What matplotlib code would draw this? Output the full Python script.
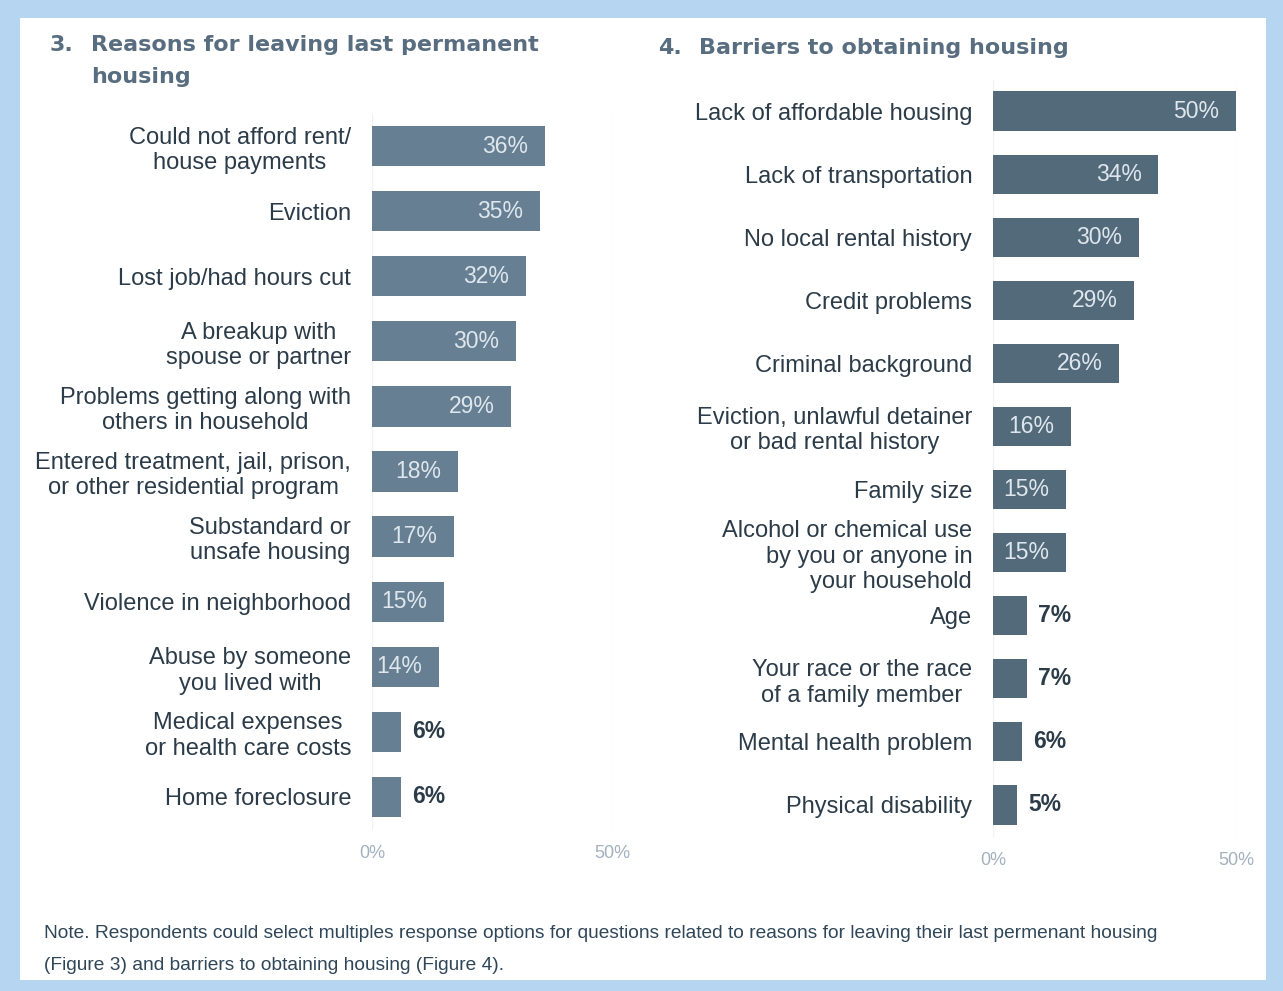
import matplotlib.pyplot as plt
from matplotlib.patches import Rectangle

# Figure 3: reasons for leaving last permanent housing (% of respondents)
reasons = [
    "Could not afford rent/\nhouse payments",
    "Eviction",
    "Lost job/had hours cut",
    "A breakup with\nspouse or partner",
    "Problems getting along with\nothers in household",
    "Entered treatment, jail, prison,\nor other residential program",
    "Substandard or\nunsafe housing",
    "Violence in neighborhood",
    "Abuse by someone\nyou lived with",
    "Medical expenses\nor health care costs",
    "Home foreclosure",
]
reason_pct = [36, 35, 32, 30, 29, 18, 17, 15, 14, 6, 6]

# Figure 4: barriers to obtaining housing (% of respondents)
barriers = [
    "Lack of affordable housing",
    "Lack of transportation",
    "No local rental history",
    "Credit problems",
    "Criminal background",
    "Eviction, unlawful detainer\nor bad rental history",
    "Family size",
    "Alcohol or chemical use\nby you or anyone in\nyour household",
    "Age",
    "Your race or the race\nof a family member",
    "Mental health problem",
    "Physical disability",
]
barrier_pct = [50, 34, 30, 29, 26, 16, 15, 15, 7, 7, 6, 5]

W, H = 1283, 991
LABEL_FONT = ["Liberation Sans", "DejaVu Sans"]
TEXT_DARK = "#2b3b48"
TITLE_COLOR = "#586d7f"


def px(x, y, w, h):
    """Axes rect from pixel box (top-left origin)."""
    return [x / W, 1 - (y + h) / H, w / W, h / H]


def draw_bars(ax, labels, values, color, right_align=()):
    pos = list(range(len(values)))
    ax.barh(pos, values, height=0.62, color=color, zorder=2)
    ax.set_xlim(0, 50)
    ax.set_ylim(len(values) - 0.5, -0.5)
    ax.set_yticks(pos)
    ax.set_yticklabels(labels, fontsize=17, family=LABEL_FONT, color=TEXT_DARK,
                       linespacing=1.2)
    for i, lab in enumerate(ax.get_yticklabels()):
        lab.set_multialignment("right" if i in right_align else "center")
    ax.tick_params(axis="y", length=0, pad=15)
    ax.set_xticks([0, 50])
    ax.set_xticklabels(["0%", "50%"], fontsize=13, family=LABEL_FONT,
                       color="#a3b1be")
    ax.tick_params(axis="x", length=0, pad=11)
    ax.grid(axis="x", color="#f1f1f1", linewidth=1, zorder=0)
    ax.patch.set_alpha(0)
    for s in ax.spines.values():
        s.set_visible(False)
    for i, v in enumerate(values):
        if v >= 10:
            ax.annotate(f"{v}%", (v, i), xytext=(-12, 0),
                        textcoords="offset points", ha="right", va="center",
                        fontsize=16.5, family=LABEL_FONT, color="#dfe7ee")
        else:
            ax.annotate(f"{v}%", (v, i), xytext=(8, 0),
                        textcoords="offset points", ha="left", va="center",
                        fontsize=16.5, family=LABEL_FONT, color=TEXT_DARK,
                        fontweight="bold")


fig = plt.figure(figsize=(W / 100, H / 100), dpi=100)
fig.patch.set_facecolor("#b5d5f0")
fig.patches.append(Rectangle((20 / W, 1 - 980 / H), 1246 / W, 962 / H,
                             transform=fig.transFigure, facecolor="white",
                             edgecolor="none", zorder=-10))

ax1 = fig.add_axes(px(372, 113.5, 240, 716))
draw_bars(ax1, reasons, reason_pct, "#667f92")

ax2 = fig.add_axes(px(993, 79.5, 243, 757))
draw_bars(ax2, barriers, barrier_pct, "#536a7b", right_align=(7,))

title_kw = dict(fontsize=16, fontweight="bold", color=TITLE_COLOR,
                family="DejaVu Sans", va="center", ha="left")
fig.text(50 / W, 1 - 45 / H, "3.", **title_kw)
fig.text(91 / W, 1 - 45 / H, "Reasons for leaving last permanent", **title_kw)
fig.text(91 / W, 1 - 77 / H, "housing", **title_kw)
fig.text(658 / W, 1 - 48 / H, "4.", **title_kw)
fig.text(699 / W, 1 - 48 / H, "Barriers to obtaining housing", **title_kw)

note_kw = dict(fontsize=13.8, color="#2f4658", family=LABEL_FONT,
               va="center", ha="left")
fig.text(44 / W, 1 - 934 / H,
         "Note. Respondents could select multiples response options for "
         "questions related to reasons for leaving their last permenant housing",
         **note_kw)
fig.text(44 / W, 1 - 965 / H,
         "(Figure 3) and barriers to obtaining housing (Figure 4).", **note_kw)

fig.savefig("out.png", dpi=100, facecolor=fig.get_facecolor())
